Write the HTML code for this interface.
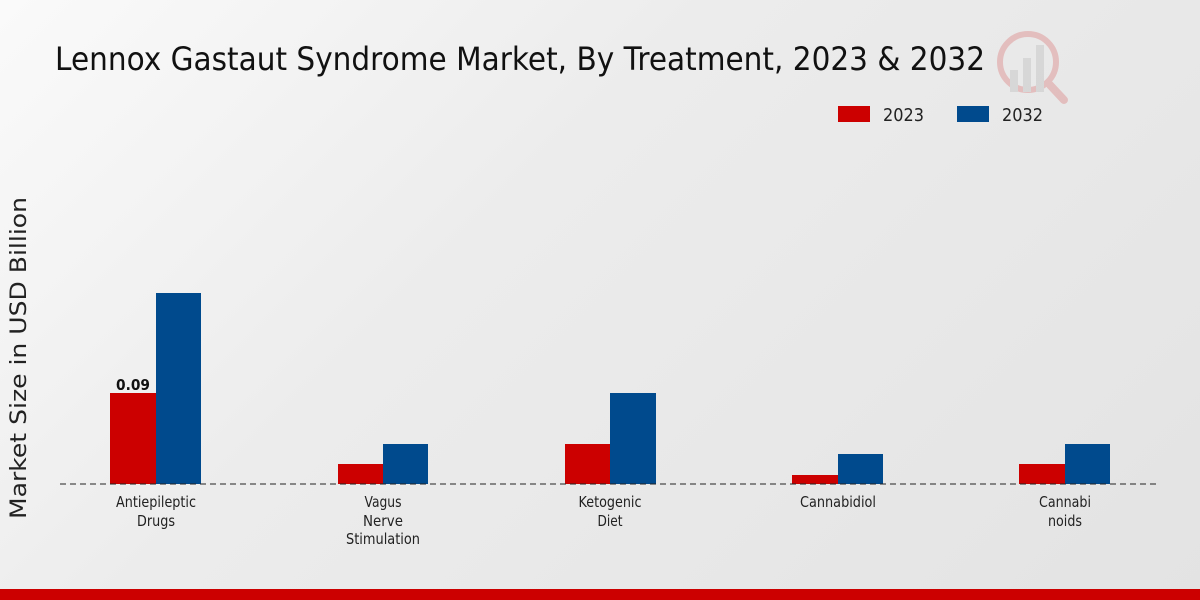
<!DOCTYPE html>
<html><head><meta charset="utf-8"><style>
html,body{margin:0;padding:0;width:1200px;height:600px;overflow:hidden;}
body{background:linear-gradient(135deg,#fafafa 0%,#ececec 40%,#e3e3e3 100%);font-family:"DejaVu Sans","Liberation Sans",sans-serif;}
</style></head><body>
<svg width="1200" height="600" xmlns="http://www.w3.org/2000/svg" style="position:absolute;left:0;top:0" font-family="DejaVu Sans, Liberation Sans, sans-serif">
<text x="55" y="70" font-size="32" fill="#111" textLength="930" lengthAdjust="spacingAndGlyphs">Lennox Gastaut Syndrome Market, By Treatment, 2023 &amp; 2032</text>
<g opacity="0.18">
<circle cx="1028" cy="62" r="28" fill="none" stroke="#c00" stroke-width="6"/>
<rect x="1010" y="70" width="8" height="22" fill="#888"/>
<rect x="1023" y="58" width="8" height="34" fill="#888"/>
<rect x="1036" y="45" width="8" height="47" fill="#888"/>
<line x1="1050" y1="85" x2="1064" y2="100" stroke="#c00" stroke-width="8" stroke-linecap="round"/>
</g>
<rect x="838" y="106" width="32" height="16" fill="#cc0000"/>
<text x="883" y="121" font-size="18" fill="#222" textLength="41" lengthAdjust="spacingAndGlyphs">2023</text>
<rect x="957" y="106" width="32" height="16" fill="#004a8d"/>
<text x="1002" y="121" font-size="18" fill="#222" textLength="41" lengthAdjust="spacingAndGlyphs">2032</text>
<text transform="translate(26,358) rotate(-90)" text-anchor="middle" font-size="22" fill="#222" textLength="322" lengthAdjust="spacingAndGlyphs">Market Size in USD Billion</text>
<g fill="#cc0000">
<rect x="110" y="393" width="46" height="91"/>
<rect x="338" y="464" width="45" height="20"/>
<rect x="565" y="444" width="45" height="40"/>
<rect x="792" y="475" width="46" height="9"/>
<rect x="1019" y="464" width="46" height="20"/>
</g>
<g fill="#004a8d">
<rect x="156" y="293" width="45" height="191"/>
<rect x="383" y="444" width="45" height="40"/>
<rect x="610" y="393" width="46" height="91"/>
<rect x="838" y="454" width="45" height="30"/>
<rect x="1065" y="444" width="45" height="40"/>
</g>
<text x="133" y="390" text-anchor="middle" font-size="15" font-weight="bold" fill="#111" textLength="34" lengthAdjust="spacingAndGlyphs">0.09</text>
<line x1="60" y1="484" x2="1160" y2="484" stroke="#222" stroke-width="1" stroke-dasharray="6,4"/>
<g font-size="15" fill="#222" text-anchor="middle">
<text x="156" y="507" textLength="80" lengthAdjust="spacingAndGlyphs">Antiepileptic</text><text x="156" y="526" textLength="38" lengthAdjust="spacingAndGlyphs">Drugs</text>
<text x="383" y="507" textLength="37" lengthAdjust="spacingAndGlyphs">Vagus</text><text x="383" y="526" textLength="40" lengthAdjust="spacingAndGlyphs">Nerve</text><text x="383" y="544" textLength="74" lengthAdjust="spacingAndGlyphs">Stimulation</text>
<text x="610" y="507" textLength="63" lengthAdjust="spacingAndGlyphs">Ketogenic</text><text x="610" y="526" textLength="25" lengthAdjust="spacingAndGlyphs">Diet</text>
<text x="838" y="507" textLength="76" lengthAdjust="spacingAndGlyphs">Cannabidiol</text>
<text x="1065" y="507" textLength="52" lengthAdjust="spacingAndGlyphs">Cannabi</text><text x="1065" y="526" textLength="34" lengthAdjust="spacingAndGlyphs">noids</text>
</g>
<rect x="0" y="589" width="1200" height="11" fill="#cc0000"/>
</svg>
</body></html>
